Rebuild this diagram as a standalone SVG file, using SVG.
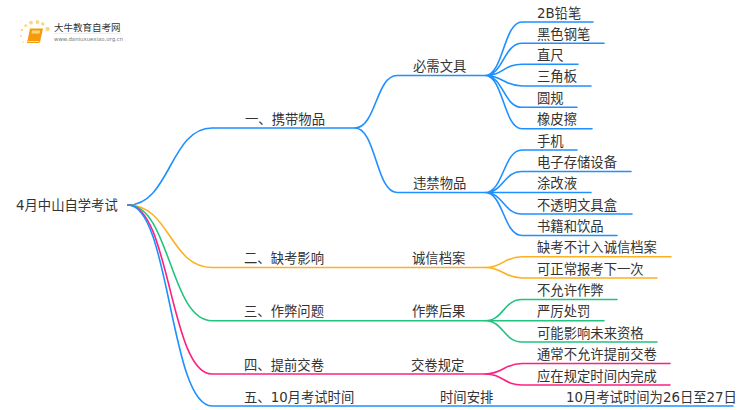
<svg xmlns="http://www.w3.org/2000/svg" width="750" height="410" viewBox="0 0 750 410">
<style>
text{font-family:"DejaVu Sans","Noto Sans CJK SC",sans-serif;font-size:13.33px;fill:#333}
.c{fill:none;stroke-width:1.6;stroke-linecap:round}
.b{stroke:#1e90ff}.o{stroke:#fdb022}.g{stroke:#22c27f}.p{stroke:#ff2080}
.d{fill:#fbd77f}
</style>
<rect width="750" height="410" fill="#fff"/>
<g id="logo">
<circle class="d" cx="47.500" cy="29" r="2.200"/><circle class="d" cx="37.500" cy="22" r="1.900"/><circle class="d" cx="31" cy="22.700" r="1.900"/><circle class="d" cx="42.700" cy="24" r="1.700"/><circle class="d" cx="25.700" cy="25.700" r="1.400"/><circle class="d" cx="22" cy="30" r="1.200"/><circle class="d" cx="21" cy="36" r="1"/><circle class="d" cx="23" cy="42" r="0.800"/>
<path d="M30 28.500h13l-3 13.500l-1 1h-12z" fill="#f59a0c"/><path d="M32 30.500h8l-.5 3h-8z" fill="#ffd873"/><path d="M28 41.500h11" stroke="#fde3a7" stroke-width="1" fill="none"/>
<text x="54" y="30.500" style="font-size:9.500px;font-family:'Noto Sans CJK SC',sans-serif">大牛教育自考网</text>
<path d="M54 33.300h67" stroke="#ddd" stroke-width=".6"/>
<text x="54" y="40.500" style="font-size:5.400px;font-family:'DejaVu Sans',sans-serif;fill:#777">www.daniuxuexiao.org.cn</text>
</g>
<g id="connectors">
<path class="c b" d="M128 205C170 205 170 128 212 128H355C376 128 376 75.500 397 75.500H485"/>
<path class="c b" d="M355 128C376 128 376 192.500 397 192.500H485"/>
<path class="c o" d="M128 205C170 205 170 267.500 212 267.500H485"/>
<path class="c g" d="M128 205C170 205 170 320.700 212 320.700H485"/>
<path class="c p" d="M128 205C170 205 170 374 212 374H485"/>
<path class="c b" d="M128 205C170 205 170 406 212 406H733"/>
<path class="c b" d="M485 75.500C503.500 75.500 503.500 22 522 22H593M485 75.500C503.500 75.500 503.500 43.300 522 43.300H604M485 75.500C503.500 75.500 503.500 64.300 522 64.300H578M485 75.500C503.500 75.500 503.500 86 522 86H591M485 75.500C503.500 75.500 503.500 107.300 522 107.300H577M485 75.500C503.500 75.500 503.500 128.700 522 128.700H592"/>
<path class="c b" d="M485 192.500C503.500 192.500 503.500 150 522 150H577M485 192.500C503.500 192.500 503.500 171.500 522 171.500H631M485 192.500H591M485 192.500C503.500 192.500 503.500 214 522 214H632M485 192.500C503.500 192.500 503.500 235.500 522 235.500H617"/>
<path class="c o" d="M485 267.500C503.500 267.500 503.500 256.700 522 256.700H671M485 267.500C503.500 267.500 503.500 278 522 278H657"/>
<path class="c g" d="M485 320.700C503.500 320.700 503.500 299.500 522 299.500H617M485 320.700H604M485 320.700C503.500 320.700 503.500 342 522 342H657"/>
<path class="c p" d="M485 374C503.500 374 503.500 363.500 522 363.500H670M485 374C503.500 374 503.500 385 522 385H670"/>
</g>
<g id="n0"><text x="16" y="210">4月中山自学考试</text></g>
<g id="n1"><text x="245" y="124">一、携带物品</text></g>
<g id="n2"><text x="244" y="263">二、缺考影响</text></g>
<g id="n3"><text x="244" y="316">三、作弊问题</text></g>
<g id="n4"><text x="244" y="370">四、提前交卷</text></g>
<g id="n5"><text x="244" y="402">五、10月考试时间</text></g>
<g id="n11"><text x="413" y="71">必需文具</text></g>
<g id="n12"><text x="413" y="188">违禁物品</text></g>
<g id="n21"><text x="412" y="263">诚信档案</text></g>
<g id="n31"><text x="412" y="316">作弊后果</text></g>
<g id="n41"><text x="411" y="370">交卷规定</text></g>
<g id="n51"><text x="440" y="402">时间安排</text></g>
<g id="l1"><text x="537" y="17.500">2B铅笔</text></g>
<g id="l2"><text x="537" y="38.500">黑色钢笔</text></g>
<g id="l3"><text x="537" y="60">直尺</text></g>
<g id="l4"><text x="537" y="81">三角板</text></g>
<g id="l5"><text x="537" y="103">圆规</text></g>
<g id="l6"><text x="537" y="124">橡皮擦</text></g>
<g id="l7"><text x="537" y="145.500">手机</text></g>
<g id="l8"><text x="537" y="167">电子存储设备</text></g>
<g id="l9"><text x="537" y="188">涂改液</text></g>
<g id="l10"><text x="537" y="210">不透明文具盒</text></g>
<g id="l11"><text x="537" y="231">书籍和饮品</text></g>
<g id="l12"><text x="537" y="252">缺考不计入诚信档案</text></g>
<g id="l13"><text x="537" y="273.500">可正常报考下一次</text></g>
<g id="l14"><text x="537" y="295">不允许作弊</text></g>
<g id="l15"><text x="537" y="316">严厉处罚</text></g>
<g id="l16"><text x="537" y="338">可能影响未来资格</text></g>
<g id="l17"><text x="537" y="359">通常不允许提前交卷</text></g>
<g id="l18"><text x="537" y="380.500">应在规定时间内完成</text></g>
<g id="l19"><text x="566" y="402">10月考试时间为26日至27日</text></g>
</svg>
